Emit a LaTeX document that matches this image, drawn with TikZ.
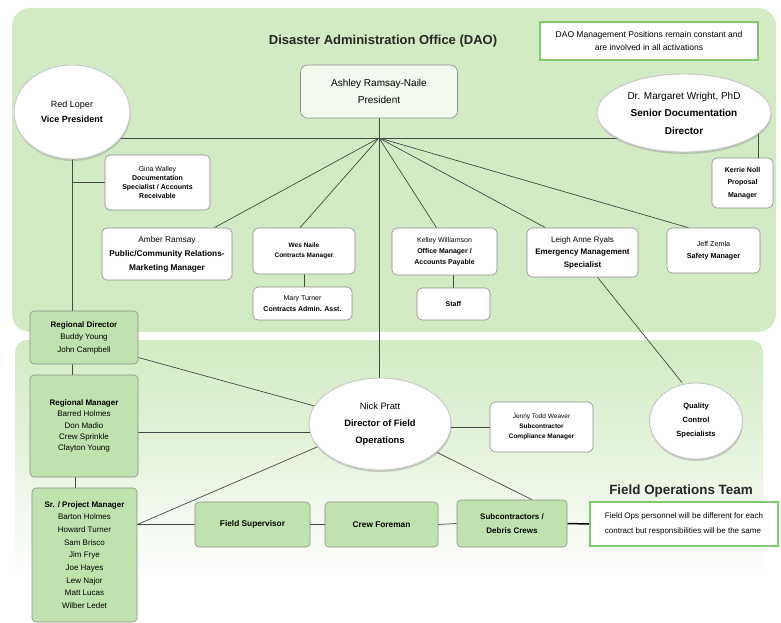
\documentclass[tikz,border=0pt]{standalone}
\usepackage{fontspec}
\setmainfont{Liberation Sans}
\usetikzlibrary{shapes.geometric,shadows}
\definecolor{panelgreen}{RGB}{210,235,196}
\definecolor{boxgreen}{RGB}{192,226,174}
\definecolor{notegreen}{RGB}{130,200,110}
\definecolor{linec}{RGB}{70,70,70}
\definecolor{boxline}{RGB}{140,140,140}
\pgfdeclarelayer{bg}
\pgfdeclarelayer{lines}
\pgfsetlayers{bg,lines,main}
\newcommand{\fsz}[2]{\fontsize{#1}{#2}\selectfont}
\begin{document}
\begin{tikzpicture}[x=1pt,y=-1pt,
  wbox/.style={draw=boxline, fill=white, rounded corners=5pt, align=center, inner sep=1pt, line width=0.6pt},
  gbox/.style={draw=boxline, fill=boxgreen, rounded corners=4pt, align=center, inner sep=1pt, line width=0.6pt},
  ell/.style={ellipse, draw=gray!45, fill=white, line width=0.9pt, align=center, inner sep=0pt,
    drop shadow={opacity=0.35, shadow xshift=0.5pt, shadow yshift=-2pt}},
  conn/.style={draw=linec, line width=0.7pt},
  titletext/.style={font=\fsz{13}{15}\bfseries, text=black!85}
]
\useasboundingbox (0,0) rectangle (781,623);
\begin{pgfonlayer}{bg}
  \fill[white] (0,0) rectangle (781,623);
  \fill[panelgreen, rounded corners=18pt] (12,8) rectangle (776,332);
  \shade[top color=panelgreen, bottom color=white, middle color=panelgreen!55, rounded corners=12pt] (15,340) rectangle (763,578);
\end{pgfonlayer}

% titles and notes
\node[titletext] (title) at (383,41) {Disaster Administration Office (DAO)};
\node[draw=notegreen, line width=1.1pt, fill=white, align=center, minimum width=218pt, minimum height=38pt, font=\fsz{8.5}{13}] (daonote) at (649,41) {DAO Management Positions remain constant and\\are involved in all activations};

% top level
\node[wbox, fill=white!70!panelgreen, rounded corners=7pt, minimum width=157pt, minimum height=53pt, font=\fsz{10}{17}] (pres) at (379,91.5) {Ashley Ramsay-Naile\\President};
\node[ell, minimum width=116pt, minimum height=94pt, font=\fsz{9}{15}] (redloper) at (72,112) {Red Loper\\\textbf{Vice President}};
\node[ell, minimum width=174pt, minimum height=78pt, font=\fsz{10}{17.5}] (margaret) at (684,113) {Dr. Margaret Wright, PhD\\\textbf{Senior Documentation}\\\textbf{Director}};

% staff boxes
\node[wbox, minimum width=105pt, minimum height=55pt, font=\fsz{7}{9}] (gina) at (157.5,182.5) {Gina Walley\\\textbf{Documentation}\\\textbf{Specialist / Accounts}\\\textbf{Receivable}};
\node[wbox, minimum width=130pt, minimum height=52pt, font=\fsz{8.3}{14}] (amber) at (167,254) {Amber Ramsay\\\textbf{Public/Community Relations-}\\\textbf{Marketing Manager}};
\node[wbox, minimum width=102pt, minimum height=46pt, font=\fsz{6.5}{10}] (wes) at (304,251) {\textbf{Wes Naile}\\\textbf{Contracts Manager}};
\node[wbox, minimum width=99pt, minimum height=33pt, font=\fsz{7}{11}] (mary) at (302.5,303.5) {Mary Turner\\\textbf{Contracts Admin. Asst.}};
\node[wbox, minimum width=105pt, minimum height=47pt, font=\fsz{7}{11}] (kelley) at (444.5,251.5) {Kelley Williamson\\\textbf{Office Manager /}\\\textbf{Accounts Payable}};
\node[wbox, minimum width=73pt, minimum height=32pt, font=\fsz{7}{9}] (staff) at (453.5,304) {\textbf{Staff}};
\node[wbox, minimum width=111pt, minimum height=49pt, font=\fsz{8}{12.5}] (leigh) at (582.5,252.5) {Leigh Anne Ryals\\\textbf{Emergency Management}\\\textbf{Specialist}};
\node[wbox, minimum width=93pt, minimum height=45pt, font=\fsz{7.2}{12}] (jeff) at (713.5,250.5) {Jeff Zemla\\\textbf{Safety Manager}};
\node[wbox, minimum width=61pt, minimum height=50pt, font=\fsz{7}{12.5}] (kerrie) at (742.5,183) {\textbf{Kerrie Noll}\\\textbf{Proposal}\\\textbf{Manager}};

% field operations
\node[ell, minimum width=142pt, minimum height=92pt, font=\fsz{9.3}{17}] (nick) at (380,424) {Nick Pratt\\\textbf{Director of Field}\\\textbf{Operations}};
\node[wbox, minimum width=103pt, minimum height=50pt, font=\fsz{6.5}{10}] (jenny) at (541.5,427) {Jenny Todd Weaver\\\textbf{Subcontractor}\\\textbf{Compliance Manager}};
\node[ell, minimum width=93pt, minimum height=76pt, font=\fsz{7.5}{14}\bfseries] (quality) at (696,421) {Quality\\Control\\Specialists};

\node[gbox, minimum width=108pt, minimum height=53pt, font=\fsz{8}{12.5}] (rd) at (84,337.5) {\textbf{Regional Director}\\Buddy Young\\John Campbell};
\node[gbox, minimum width=108pt, minimum height=102pt, font=\fsz{8}{11.3}] (rm) at (84,426) {\textbf{Regional Manager}\\Barred Holmes\\Don Madio\\Crew Sprinkle\\Clayton Young};
\node[gbox, minimum width=105pt, minimum height=134pt, font=\fsz{8}{12.7}] (srpm) at (84.5,555) {\textbf{Sr. / Project Manager}\\Barton Holmes\\Howard Turner\\Sam Brisco\\Jim Frye\\Joe Hayes\\Lew Najor\\Matt Lucas\\Wilber Ledet};

\node[gbox, minimum width=115pt, minimum height=45pt, font=\fsz{8.3}{10}\bfseries] (fs) at (252.5,524.5) {Field Supervisor};
\node[gbox, minimum width=113pt, minimum height=45pt, font=\fsz{8.3}{10}\bfseries] (cf) at (381.5,524.5) {Crew Foreman};
\node[gbox, minimum width=110pt, minimum height=47pt, font=\fsz{8}{14}\bfseries] (sub) at (512,523.5) {Subcontractors /\\Debris Crews};

\node[titletext, font=\fsz{13.4}{15}\bfseries] (fot) at (681,491) {Field Operations Team};
\node[draw=notegreen, line width=1.6pt, fill=white, align=left, minimum width=188pt, minimum height=44pt, font=\fsz{8}{15}] (fonote) at (684,524) {Field Ops personnel will be different for each\\contract but responsibilities will be the same};

% connectors
\begin{pgfonlayer}{lines}
  \coordinate (hub) at (379,138);
  \draw[conn] (redloper.center |- hub) -- (margaret.center |- hub);
  \draw[conn] (pres.south) -- (pres.south |- nick.north);
  \draw[conn] (hub) -- ([xshift=-18pt]amber.north east);
  \draw[conn] (hub) -- ([xshift=-4pt]wes.north);
  \draw[conn] (hub) -- ([xshift=-8pt]kelley.north);
  \draw[conn] (hub) -- ([xshift=-37pt]leigh.north);
  \draw[conn] (hub) -- ([xshift=-25pt]jeff.north);
  \draw[conn] ([xshift=-15pt]kerrie.north east) -- ([xshift=-15pt]kerrie.north east |- margaret.center);
  \draw[conn] (redloper.center) -- (redloper.center |- rd.north);
  \draw[conn] (redloper.center |- gina.west) -- (gina.west);
  \draw[conn] (wes.south) -- (wes.south |- mary.north);
  \draw[conn] (staff.north) -- (staff.north |- kelley.south);
  \draw[conn] ([xshift=15pt]leigh.south) -- ([xshift=-14pt]quality.north);
  \draw[conn] (redloper.center |- rd.south) -- (redloper.center |- rm.north);
  \draw[conn] ([xshift=3pt]redloper.center |- rm.south) -- ([xshift=3pt]redloper.center |- srpm.north);
  \draw[conn] ([yshift=-20pt]rd.east) -- (nick.center);
  \draw[conn] ([yshift=-6pt]rm.east) -- ([yshift=-6pt]rm.east -| nick.center);
  \draw[conn] (srpm.east |- fs.west) -- (nick.200);
  \draw[conn] (srpm.east |- fs.west) -- (fs.west);
  \draw[conn] (fs.east) -- (cf.west);
  \draw[conn] (cf.east) -- (sub.west);
  \draw[conn] (nick.center) -- ([xshift=20pt]sub.north);
  \draw[conn] (jenny.west -| nick.center) -- (jenny.west);
  \draw[black, line width=1.5pt] (sub.east) -- (fonote.west);
\end{pgfonlayer}
\end{tikzpicture}
\end{document}
